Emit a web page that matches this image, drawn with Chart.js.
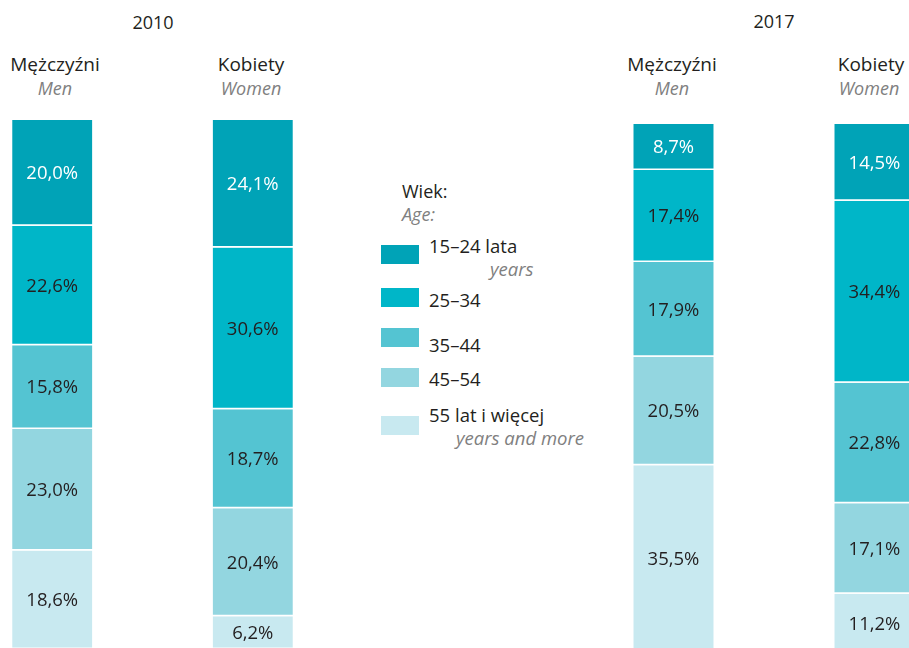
<!DOCTYPE html>
<html>
<head>
<meta charset="utf-8">
<script src="https://cdn.jsdelivr.net/npm/chart.js@4"></script>
<style>
  html, body { margin:0; padding:0; width:909px; height:648px; overflow:hidden; background:#fff; font-family:"Open Sans", sans-serif; }
  .t { position:absolute; white-space:nowrap; line-height:1; color:#231f20; }
  .c { transform:translate(-50%,-50%); }
  .l { transform:translate(0,-50%); }
  .it { font-style:italic; color:#808080; }
  .cv { position:absolute; }
  .sw { position:absolute; width:38px; height:19px; }
</style>
</head>
<body>
<script>
// ---- data ----
const years = ['2010', '2017'];
const groupsPl = ['Mężczyźni', 'Kobiety'];
const groupsEn = ['Men', 'Women'];
const ageLabelsPl = ['15–24 lata', '25–34', '35–44', '45–54', '55 lat i więcej'];
const ageLabelsEn = ['years', '', '', '', 'years and more'];
const legendTitlePl = 'Wiek:';
const legendTitleEn = 'Age:';
const men2010 = [20.0, 22.6, 15.8, 23.0, 18.6];
const women2010 = [24.1, 30.6, 18.7, 20.4, 6.2];
const men2017 = [8.7, 17.4, 17.9, 20.5, 35.5];
const women2017 = [14.5, 34.4, 22.8, 17.1, 11.2];
const ageColors = ['#00a3b7', '#00b6c8', '#54c4d2', '#93d6e0', '#c8e9f0'];
const labelColors = ['#ffffff', '#231f20', '#231f20', '#231f20', '#231f20'];

function addText(txt, x, y, size, cls) {
  const d = document.createElement('div');
  d.className = 't ' + cls;
  d.style.left = x + 'px';
  d.style.top = y + 'px';
  d.style.fontSize = size + 'px';
  d.textContent = txt;
  document.body.appendChild(d);
  return d;
}

// headers
addText(years[0], 153, 22, 18, 'c');
addText(years[1], 774, 21, 18, 'c');
addText(groupsPl[0], 55, 64, 19, 'c');
addText(groupsEn[0], 55, 88, 18, 'c it');
addText(groupsPl[1], 251, 64, 19, 'c');
addText(groupsEn[1], 251, 88, 18, 'c it');
addText(groupsPl[0], 672, 64, 19, 'c');
addText(groupsEn[0], 672, 88, 18, 'c it');
addText(groupsPl[1], 871, 64, 19, 'c');
addText(groupsEn[1], 869, 88, 18, 'c it');

// legend
addText(legendTitlePl, 402, 191, 18, 'l');
addText(legendTitleEn, 402, 214, 18, 'l it');
const swTops = [245, 288, 328, 368, 416];
const txtY = [246, 300, 345, 379, 415];
const enPos = [[490, 269], null, null, null, [456, 438]];
ageLabelsPl.forEach((lab, i) => {
  const s = document.createElement('div');
  s.className = 'sw';
  s.style.left = '381px';
  s.style.top = swTops[i] + 'px';
  s.style.background = ageColors[i];
  document.body.appendChild(s);
  addText(lab, 429, txtY[i], 18.5, 'l');
  if (ageLabelsEn[i]) addText(ageLabelsEn[i], enPos[i][0], enPos[i][1], 18.5, 'l it');
});

const labelPlugin = {
  id: 'segLabels',
  afterDatasetsDraw(chart) {
    const ctx = chart.ctx;
    ctx.save();
    ctx.font = '18.5px "Open Sans"';
    ctx.textAlign = 'center';
    ctx.textBaseline = 'middle';
    chart.data.datasets.forEach((ds, di) => {
      const meta = chart.getDatasetMeta(di);
      meta.data.forEach((el, i) => {
        const v = ds.data[i];
        ctx.fillStyle = labelColors[di];
        ctx.fillText(v.toFixed(1).replace('.', ',') + '%', el.x, (el.y + el.base) / 2 + 1);
      });
    });
    ctx.restore();
  }
};

function makeChart(left, top, width, height, menData, womenData) {
  const c = document.createElement('canvas');
  c.className = 'cv';
  c.width = width; c.height = height;
  c.style.left = left + 'px';
  c.style.top = top + 'px';
  c.style.width = width + 'px';
  c.style.height = height + 'px';
  document.body.appendChild(c);
  new Chart(c, {
    type: 'bar',
    data: {
      labels: groupsEn,
      datasets: ageLabelsPl.map((lab, i) => ({
        label: lab,
        data: [menData[i], womenData[i]],
        backgroundColor: ageColors[i],
        borderColor: '#ffffff',
        borderWidth: { top: 0, left: 0, right: 0, bottom: 1.5 },
        borderSkipped: false,
        categoryPercentage: 1,
        barPercentage: 0.4
      }))
    },
    options: {
      responsive: false,
      animation: false,
      layout: { padding: 0 },
      plugins: { legend: { display: false }, tooltip: { enabled: false } },
      scales: {
        x: { display: false, stacked: true },
        y: { display: false, stacked: true, min: 0, max: 100, reverse: true }
      }
    },
    plugins: [labelPlugin]
  });
}

makeChart(-48, 120, 401, 529, men2010, women2010);
makeChart(573, 124, 402, 529, men2017, women2017);
</script>
</body>
</html>
